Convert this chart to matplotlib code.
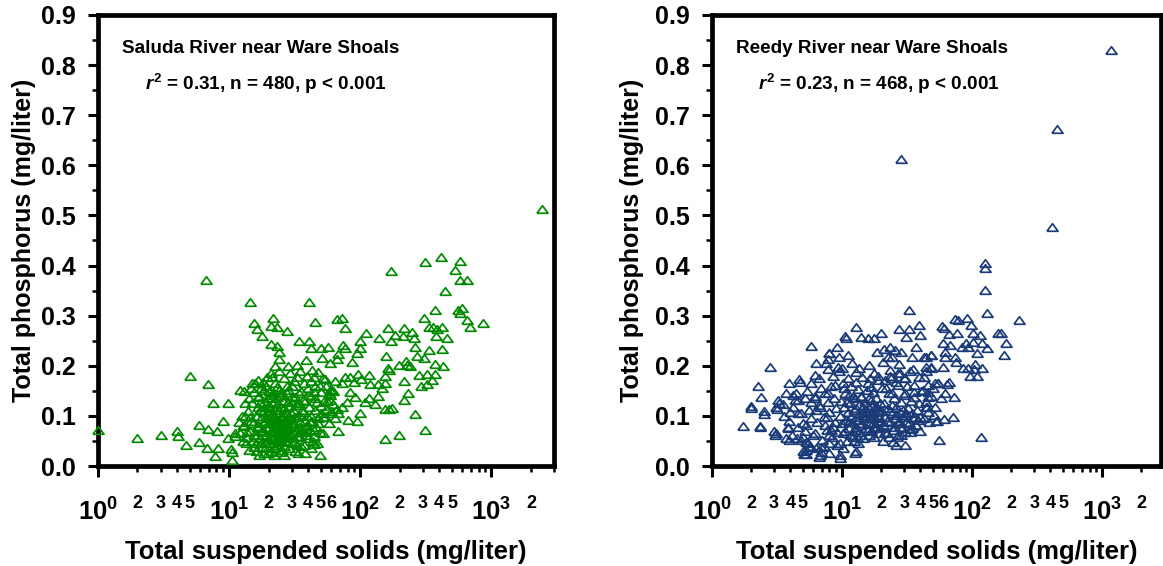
"""
Total phosphorus vs total suspended solids, Saluda and Reedy rivers
near Ware Shoals. Two log-x scatter panels with open triangles.
"""

import numpy as np
import matplotlib.pyplot as plt
from matplotlib.ticker import FixedLocator, FixedFormatter

plt.rcParams['font.family'] = 'Liberation Sans'
plt.rcParams['font.weight'] = 'bold'
plt.rcParams['mathtext.fontset'] = 'custom'
plt.rcParams['mathtext.rm'] = 'Liberation Sans:bold'
plt.rcParams['mathtext.bf'] = 'Liberation Sans:bold'
plt.rcParams['mathtext.it'] = 'Liberation Sans:bold:italic'

# (TSS mg/L, TP mg/L)
saluda_points = [
    # sparse low-TSS tail
    (1.0, 0.072), (2.0, 0.055), (3.0, 0.062), (4.0, 0.07), (4.1, 0.059), (4.7, 0.041), (5.0, 0.179),
    (5.9, 0.082), (5.9, 0.047), (6.7, 0.372), (6.9, 0.164), (6.9, 0.073), (6.8, 0.035), (7.5, 0.125),
    (7.8, 0.019), (8.1, 0.07), (8.2, 0.035), (9.0, 0.09), (9.8, 0.126), (9.8, 0.055), (10.3, 0.034),
    (10.6, 0.011), (11.0, 0.066), (12.0, 0.152), (12.8, 0.079), (13.2, 0.1), (10.6, 0.027), (11.1, 0.06),
    # upper scatter
    (14.3, 0.328), (15.6, 0.286), (16.2, 0.274), (17.8, 0.26), (21.5, 0.295), (20.9, 0.28), (23.0, 0.278),
    (27.4, 0.27), (20.9, 0.243), (23.0, 0.24), (23.8, 0.214), (22.2, 0.2), (40.8, 0.328), (44.8, 0.288),
    (34.0, 0.25), (40.8, 0.249), (41.8, 0.235), (38.6, 0.211), (33.2, 0.202), (28.3, 0.2), (50, 0.235),
    (57, 0.237), (59, 0.206), (67, 0.293), (72, 0.296), (76, 0.276), (74, 0.242), (76, 0.235), (68, 0.224),
    (67, 0.213), (87, 0.207), (95, 0.226), (99, 0.25), (110, 0.265), (100, 0.235), (139, 0.256), (157, 0.22),
    (163, 0.276), (170, 0.389), (170, 0.25), (183, 0.262), (215, 0.276), (210, 0.26), (247, 0.267),
    (256, 0.256), (260, 0.238), (269, 0.22), (311, 0.407), (305, 0.296), (369, 0.312), (412, 0.418),
    (445, 0.349), (334, 0.278), (360, 0.278), (382, 0.274), (417, 0.278), (380, 0.26), (455, 0.255),
    (334, 0.231), (417, 0.233), (305, 0.216), (369, 0.204), (430, 0.2), (529, 0.391), (573, 0.41),
    (573, 0.371), (650, 0.372), (560, 0.312), (599, 0.315), (580, 0.306), (650, 0.292), (690, 0.278),
    (855, 0.286), (2410, 0.512),
    # middle band
    (96, 0.183), (102, 0.174), (116, 0.181), (118, 0.164), (90, 0.168), (136, 0.163), (146, 0.156),
    (153, 0.166), (153, 0.179), (163, 0.195), (167, 0.191), (196, 0.202), (222, 0.209), (229, 0.202),
    (238, 0.199), (215, 0.17), (232, 0.145), (215, 0.131), (281, 0.181), (290, 0.159), (325, 0.184),
    (320, 0.164), (352, 0.171), (369, 0.184), (260, 0.104), (311, 0.071), (155, 0.054), (196, 0.061),
    (153, 0.114), (167, 0.113), (174, 0.116), (136, 0.14), (130, 0.123), (116, 0.136), (108, 0.128),
    (100, 0.105), (95, 0.09), (91, 0.138), (84, 0.148), (79, 0.127), (81, 0.091), (68, 0.07), (64, 0.17),
    (72, 0.166), (76, 0.177), (84, 0.177), (62, 0.123), (67, 0.113), (59, 0.141), (53, 0.13), (55, 0.113),
    (61, 0.152), (50, 0.148), (52, 0.098), (49, 0.021), (44.5, 0.044),
    (24.2, 0.227), (51, 0.215), (21.2, 0.177), (15.8, 0.165), (42.8, 0.192), (44, 0.177), (49.4, 0.159),
    (54, 0.173), (59, 0.152), (59, 0.132), (61, 0.105),
    # dense cluster
    (13.5, 0.045), (13.8, 0.058), (14.0, 0.11), (14.2, 0.135), (14.5, 0.07), (14.8, 0.09), (15.0, 0.125),
    (15.2, 0.05), (15.5, 0.148), (15.8, 0.165), (16.0, 0.03), (16.2, 0.062), (16.4, 0.1), (16.6, 0.118),
    (16.8, 0.08), (17.0, 0.14), (17.2, 0.055), (17.4, 0.095), (17.6, 0.155), (17.8, 0.038), (18.0, 0.072),
    (18.2, 0.108), (18.4, 0.128), (18.6, 0.085), (18.8, 0.048), (19.0, 0.16), (19.2, 0.062), (19.4, 0.098),
    (19.6, 0.135), (19.8, 0.025), (20.0, 0.078), (20.2, 0.115), (20.4, 0.045), (20.6, 0.09), (20.8, 0.142),
    (21.0, 0.058), (21.2, 0.102), (21.4, 0.07), (21.6, 0.125), (21.8, 0.035), (22.0, 0.085), (22.2, 0.112),
    (22.4, 0.052), (22.6, 0.095), (22.8, 0.065), (23.0, 0.138), (23.2, 0.042), (23.4, 0.08), (23.6, 0.105),
    (23.8, 0.06), (24.0, 0.152), (24.2, 0.09), (24.4, 0.028), (24.6, 0.072), (24.8, 0.118), (25.0, 0.05),
    (25.3, 0.098), (25.6, 0.082), (25.9, 0.13), (26.2, 0.04), (26.5, 0.068), (26.8, 0.108), (27.1, 0.088),
    (27.4, 0.055), (27.7, 0.145), (28.0, 0.075), (28.4, 0.12), (28.8, 0.035), (29.2, 0.095), (29.6, 0.062),
    (30.0, 0.16), (30.5, 0.085), (31.0, 0.11), (31.5, 0.048), (32.0, 0.138), (32.5, 0.072), (33.0, 0.098),
    (33.5, 0.025), (34.0, 0.125), (34.5, 0.058), (35.0, 0.088), (35.6, 0.15), (36.2, 0.068), (36.8, 0.108),
    (37.4, 0.042), (38.0, 0.13), (38.7, 0.08), (39.4, 0.1), (40.0, 0.055), (40.8, 0.118), (41.6, 0.072),
    (42.4, 0.14), (43.2, 0.09), (44.0, 0.06), (45.0, 0.112), (46.0, 0.078), (47.0, 0.128), (48.0, 0.095),
    (49.0, 0.068), (50.0, 0.105),
    (12.5, 0.1), (13.0, 0.082), (13.3, 0.125), (14.1, 0.032), (14.6, 0.155), (15.3, 0.085), (15.9, 0.045),
    (16.5, 0.138), (17.1, 0.112), (17.7, 0.068), (18.3, 0.152), (18.9, 0.09), (19.5, 0.052), (20.1, 0.122),
    (20.7, 0.068), (21.3, 0.088), (21.9, 0.145), (22.5, 0.038), (23.1, 0.075), (23.7, 0.125), (24.3, 0.058),
    (24.9, 0.098), (25.5, 0.032), (26.1, 0.115), (26.7, 0.05), (27.3, 0.092), (27.9, 0.128), (28.6, 0.065),
    (29.4, 0.105), (30.2, 0.045), (31.2, 0.082), (32.2, 0.122), (33.2, 0.06), (34.2, 0.102), (35.3, 0.04),
    (36.5, 0.132), (37.7, 0.09), (39.0, 0.07), (40.4, 0.142), (42.0, 0.1), (43.6, 0.05), (45.5, 0.135),
    (47.5, 0.085), (19.1, 0.075), (20.9, 0.03), (22.3, 0.072), (23.3, 0.092), (24.1, 0.112), (25.2, 0.068),
    (26.3, 0.088), (16.3, 0.078), (17.5, 0.045), (18.5, 0.118), (19.7, 0.108), (21.1, 0.135), (22.7, 0.118),
    (24.7, 0.142), (26.9, 0.062), (28.2, 0.048), (29.8, 0.128), (31.8, 0.098), (33.8, 0.078), (36.0, 0.112),
    (38.4, 0.062), (41.2, 0.088), (44.5, 0.072), (21.5, 0.055), (23.5, 0.048), (25.8, 0.058), (27.6, 0.078),
    (30.8, 0.068), (32.8, 0.042), (35.8, 0.075), (20.3, 0.095), (22.1, 0.1), (24.5, 0.085), (26.0, 0.102),
    (28.9, 0.085), (18.7, 0.035), (17.3, 0.125), (15.6, 0.062), (14.4, 0.098), (13.6, 0.068), (12.8, 0.05),
    (12.2, 0.065), (11.8, 0.088),
    (13.0, 0.15), (15.0, 0.165), (16.5, 0.172), (18.0, 0.168), (19.5, 0.178), (21.0, 0.185), (22.5, 0.165),
    (24.0, 0.19), (26.0, 0.175), (27.5, 0.16), (29.0, 0.185), (31.0, 0.17), (33.0, 0.178), (35.0, 0.19),
    (37.0, 0.165), (39.0, 0.18), (42.0, 0.17), (45.0, 0.16), (48.0, 0.188), (52.0, 0.175), (55.0, 0.16),
    (58.0, 0.145), (62.0, 0.15), (20.0, 0.15), (23.0, 0.158), (25.0, 0.148), (28.0, 0.152), (30.0, 0.14),
    (34.0, 0.145), (40.0, 0.155), (44.0, 0.148), (50.0, 0.12), (54.0, 0.098), (56.0, 0.13), (60.0, 0.11),
    (64.0, 0.095), (68.0, 0.105), (72.0, 0.118), (58.0, 0.085), (52.0, 0.065), (47.0, 0.045), (42.0, 0.035),
    (38.0, 0.025), (32.0, 0.03), (26.0, 0.022), (22.0, 0.022), (18.5, 0.025), (15.5, 0.038), (17.0, 0.022),
]

reedy_points = [
    # outliers
    (1164, 0.831), (446, 0.672), (28.2, 0.613), (408, 0.477), (125, 0.406), (126, 0.396), (125, 0.352),
    (129, 0.306), (228, 0.291), (32.5, 0.311), (116, 0.057), (55.5, 0.051),
    # right arm
    (73.5, 0.294), (78, 0.292), (91, 0.296), (58.7, 0.279), (60.5, 0.276), (98.6, 0.281), (66, 0.263),
    (76, 0.265), (101, 0.266), (115, 0.261), (159, 0.265), (166, 0.265), (183, 0.246), (176, 0.221),
    (59.5, 0.246), (68, 0.241), (83, 0.238), (90, 0.246), (101, 0.248), (119, 0.246), (131, 0.235),
    (93, 0.238), (61.5, 0.228), (109, 0.225), (48.5, 0.221), (44.5, 0.218), (62, 0.218), (73.5, 0.218),
    (75.5, 0.208), (59.5, 0.198), (48, 0.195), (44.5, 0.19), (85, 0.195), (93, 0.195), (106, 0.203),
    (104, 0.193), (119, 0.195), (96, 0.179), (109, 0.179), (51.5, 0.165), (55, 0.166), (64, 0.163),
    (45.7, 0.148), (72.5, 0.138), (45, 0.118), (53, 0.09), (60.5, 0.093), (71, 0.098),
    # upper body
    (12.9, 0.277), (10.5, 0.259), (10.8, 0.255), (13.9, 0.258), (15.9, 0.255), (17.6, 0.255), (19.8, 0.266),
    (27.2, 0.273), (32.5, 0.273), (38.9, 0.281), (39.5, 0.261), (31, 0.258), (37.3, 0.237), (9.2, 0.238),
    (11.2, 0.221), (9.4, 0.217), (8.0, 0.226), (7.8, 0.213), (9.3, 0.198), (7.8, 0.193), (8.5, 0.179),
    (12.9, 0.188), (16, 0.201), (18.4, 0.228), (20.9, 0.233), (23.2, 0.238), (25.4, 0.231), (28.6, 0.228),
    (22.6, 0.218), (24, 0.217), (20.6, 0.208), (27.2, 0.203), (34.5, 0.217), (35, 0.193), (43, 0.218),
    (48, 0.221), (44.5, 0.198), (48.5, 0.198), (39, 0.177), (43, 0.177), (46, 0.161), (35.6, 0.161),
    (30.3, 0.175), (23.2, 0.191), (26.9, 0.185), (23.2, 0.179), (18.9, 0.179), (21.2, 0.171), (16.3, 0.175),
    (10.2, 0.165), (8.8, 0.161), (13.2, 0.153), (16.8, 0.158), (11.4, 0.141), (14, 0.138), (24, 0.145),
    (30.3, 0.145), (36, 0.138), (40.5, 0.15), (45.5, 0.138), (31, 0.105), (34.5, 0.106), (39.5, 0.098),
    (37.3, 0.081), (44.5, 0.117), (27.7, 0.078), (33, 0.073), (26, 0.041), (30.6, 0.041), (12.5, 0.025),
    (9.6, 0.015),
    # left part
    (2.77, 0.197), (2.25, 0.159), (2.39, 0.137), (2.0, 0.115), (2.5, 0.103), (1.73, 0.079), (2.32, 0.077),
    (3.08, 0.066), (3.03, 0.061), (3.9, 0.165), (4.66, 0.173), (4.72, 0.168), (5.8, 0.239), (6.3, 0.206),
    (7.57, 0.205), (8.0, 0.225), (3.68, 0.145), (3.21, 0.131), (3.12, 0.118), (3.51, 0.123), (4.18, 0.141),
    (4.33, 0.131), (5.15, 0.135), (5.8, 0.128), (6.15, 0.139), (3.95, 0.108), (4.58, 0.105), (3.83, 0.075),
    (3.73, 0.055), (4.58, 0.078), (5.3, 0.081), (5.0, 0.058), (5.47, 0.045), (5.25, 0.031), (5.3, 0.023),
    (6.15, 0.065), (6.9, 0.038), (6.7, 0.018), (6.3, 0.111), (5.8, 0.165), (6.15, 0.181), (6.9, 0.155),
    (7.8, 0.145), (6.7, 0.121), (7.6, 0.098), (7.35, 0.081), (8.25, 0.071), (8.0, 0.045),
    (2.0, 0.12), (2.35, 0.08), (2.5, 0.109), (3.0, 0.07), (3.17, 0.114), (3.85, 0.077), (3.9, 0.052),
    (4.8, 0.052), (4.97, 0.03), (5.1, 0.023), (5.6, 0.037), (6.8, 0.021), (8.0, 0.025), (9.6, 0.021),
    (12.7, 0.03),
    # dense body
    (3.3, 0.125), (3.6, 0.1), (3.9, 0.09), (4.2, 0.118), (4.4, 0.145), (4.6, 0.132), (4.8, 0.105),
    (5.0, 0.085), (5.2, 0.07), (5.4, 0.15), (5.6, 0.112), (5.8, 0.095), (6.0, 0.062), (6.2, 0.135),
    (6.4, 0.088), (6.6, 0.175), (6.8, 0.118), (7.0, 0.052), (7.2, 0.098), (7.4, 0.145), (7.6, 0.072),
    (7.8, 0.128), (8.0, 0.108), (8.2, 0.16), (8.4, 0.058), (8.6, 0.135), (8.8, 0.088), (9.0, 0.115),
    (9.2, 0.042), (9.4, 0.19), (4.1, 0.062), (4.5, 0.055), (5.3, 0.048), (5.7, 0.04), (6.3, 0.035),
    (6.9, 0.028), (7.3, 0.04), (7.9, 0.062), (8.5, 0.078), (9.1, 0.068),
    (9.6, 0.1), (9.8, 0.13), (10.0, 0.085), (10.2, 0.065), (10.4, 0.118), (10.6, 0.145), (10.8, 0.092),
    (11.0, 0.05), (11.2, 0.108), (11.4, 0.075), (11.6, 0.125), (11.8, 0.16), (12.0, 0.088), (12.2, 0.058),
    (12.4, 0.112), (12.6, 0.135), (12.8, 0.078), (13.0, 0.098), (13.2, 0.045), (13.4, 0.122), (13.6, 0.068),
    (13.8, 0.105), (14.0, 0.14), (14.2, 0.085), (14.4, 0.118), (14.6, 0.055), (14.8, 0.095), (15.0, 0.128),
    (15.2, 0.075), (15.4, 0.108), (15.6, 0.152), (15.8, 0.088), (16.0, 0.062), (16.2, 0.115), (16.4, 0.098),
    (16.6, 0.132), (16.8, 0.07), (17.0, 0.105), (17.2, 0.085), (17.4, 0.148), (17.6, 0.058), (17.8, 0.118),
    (18.0, 0.095), (18.3, 0.135), (18.6, 0.078), (18.9, 0.11), (19.2, 0.065), (19.5, 0.125), (19.8, 0.09),
    (20.1, 0.155), (9.7, 0.045), (10.1, 0.035), (10.5, 0.07), (10.9, 0.128), (11.3, 0.088), (11.7, 0.098),
    (12.1, 0.138), (12.5, 0.072), (12.9, 0.115), (13.3, 0.092), (13.7, 0.082), (14.1, 0.062), (14.5, 0.102),
    (14.9, 0.112), (15.3, 0.098), (15.7, 0.072), (16.1, 0.135), (16.5, 0.085), (16.9, 0.122), (17.3, 0.095),
    (17.7, 0.075), (18.1, 0.108), (18.5, 0.118), (18.9, 0.088), (19.3, 0.098), (19.7, 0.075), (20.0, 0.112),
    (11.5, 0.062), (12.3, 0.05), (13.1, 0.058), (10.3, 0.155), (11.1, 0.175), (12.7, 0.168), (14.3, 0.178),
    (15.9, 0.165), (17.5, 0.185), (19.0, 0.172), (9.9, 0.195), (11.9, 0.205), (13.5, 0.195),
    (20.5, 0.082), (21.0, 0.125), (21.5, 0.098), (22.0, 0.065), (22.5, 0.115), (23.0, 0.145), (23.5, 0.088),
    (24.0, 0.105), (24.5, 0.072), (25.0, 0.135), (25.5, 0.095), (26.0, 0.118), (26.5, 0.058), (27.0, 0.162),
    (27.5, 0.085), (28.0, 0.108), (28.5, 0.128), (29.0, 0.075), (29.5, 0.098), (30.0, 0.142), (31.0, 0.088),
    (32.0, 0.115), (33.0, 0.068), (34.0, 0.13), (35.0, 0.095), (36.0, 0.148), (37.0, 0.082), (38.0, 0.112),
    (39.0, 0.125), (40.0, 0.07), (42.0, 0.152), (44.0, 0.128), (46.0, 0.108), (48.0, 0.14), (50.0, 0.155),
    (52.0, 0.118), (55.0, 0.165), (58.0, 0.135), (62.0, 0.145), (66.0, 0.168), (21.2, 0.068), (22.2, 0.09),
    (23.2, 0.11), (24.2, 0.122), (25.2, 0.078), (26.2, 0.102), (27.2, 0.09), (28.2, 0.062), (29.2, 0.112),
    (30.5, 0.102), (21.8, 0.155), (23.8, 0.175), (25.8, 0.168), (27.8, 0.185), (29.8, 0.175), (31.5, 0.16),
    (33.5, 0.19), (20.8, 0.05), (22.8, 0.058), (24.8, 0.048), (26.8, 0.062), (30.2, 0.068), (32.5, 0.085),
    (34.5, 0.075), (36.5, 0.098), (38.5, 0.092), (42.5, 0.095), (46.5, 0.088), (50.5, 0.102), (54.0, 0.09),
]

saluda_label = "Saluda River near Ware Shoals"
saluda_stats = r"$\mathit{r}^{2}$ = 0.31, n = 480, p < 0.001"
reedy_label = "Reedy River near Ware Shoals"
reedy_stats = r"$\mathit{r}^{2}$ = 0.23, n = 468, p < 0.001"

major_x = [1, 10, 100, 1000]
major_x_labels = [r"$10^{0}$", r"$10^{1}$", r"$10^{2}$", r"$10^{3}$"]
# which minor ticks carry a digit, per decade
minor_x_labelled = {0: [2, 3, 4, 5], 1: [2, 3, 4, 5, 6], 2: [2, 3, 4, 5], 3: [2]}
y_ticks = [0.0, 0.1, 0.2, 0.3, 0.4, 0.5, 0.6, 0.7, 0.8, 0.9]

W, H = 1163, 566
GREEN = "#008a00"
NAVY = "#1a3a78"
TRI = [(-1, -0.68), (1, -0.68), (0, 0.68), (-1, -0.68)]


def style_panel(ax, xmax):
    ax.set_xscale("log")
    ax.set_xlim(1, xmax)
    ax.set_ylim(0, 0.9)
    for s in ax.spines.values():
        s.set_linewidth(3.4)

    ax.xaxis.set_major_locator(FixedLocator(major_x))
    ax.xaxis.set_major_formatter(FixedFormatter(major_x_labels))
    minor_pos, minor_lab = [], []
    for d in range(4):
        for m in range(2, 10):
            v = m * 10 ** d
            if v > xmax:
                continue
            minor_pos.append(v)
            minor_lab.append(str(m) if m in minor_x_labelled[d] else "")
    ax.xaxis.set_minor_locator(FixedLocator(minor_pos))
    ax.xaxis.set_minor_formatter(FixedFormatter(minor_lab))

    ax.set_yticks(y_ticks)
    ax.set_yticklabels([f"{v:.1f}" for v in y_ticks])
    ax.set_yticks([v + 0.05 for v in y_ticks[:-1]], minor=True)

    ax.tick_params(axis="x", which="major", direction="out", length=8, width=2.2,
                   pad=15, labelsize=18.5)
    ax.tick_params(axis="x", which="minor", direction="out", length=4, width=1.8,
                   pad=17, labelsize=13)
    ax.tick_params(axis="y", which="major", direction="out", length=7, width=2.2,
                   pad=9, labelsize=18)
    ax.tick_params(axis="y", which="minor", direction="out", length=4, width=1.8)

    ax.set_xlabel("Total suspended solids (mg/liter)", fontsize=18.5, fontweight="bold")
    ax.set_ylabel("Total phosphorus (mg/liter)", fontsize=18, fontweight="bold")


fig = plt.figure(figsize=(W / 100, H / 100), dpi=100)
ax1 = fig.add_axes([98 / W, 1 - 466 / H, 456 / W, 451 / H])
ax2 = fig.add_axes([712 / W, 1 - 466 / H, 449 / W, 451 / H])

panels = [
    (ax1, saluda_points, GREEN, saluda_label, saluda_stats, 3000, -0.135),
    (ax2, reedy_points, NAVY, reedy_label, reedy_stats, 2830, -0.152),
]
for ax, pts, color, label, stats, xmax, ylab_x in panels:
    pts = np.array(pts)
    ax.plot(pts[:, 0], pts[:, 1], linestyle="none", marker=TRI, ms=8,
            mfc="none", mec=color, mew=1.25, clip_on=False, zorder=3)
    style_panel(ax, xmax)
    ax.yaxis.set_label_coords(ylab_x, 0.5)
    ax.xaxis.set_label_coords(0.5, -0.163)
    ax.text(0.053, 0.926, label, transform=ax.transAxes, fontsize=13.6,
            fontweight="bold", va="center", ha="left")
    ax.text(0.102, 0.848, stats, transform=ax.transAxes, fontsize=13.6,
            fontweight="bold", va="center", ha="left")

fig.savefig("out.png", dpi=100)
plt.close(fig)
